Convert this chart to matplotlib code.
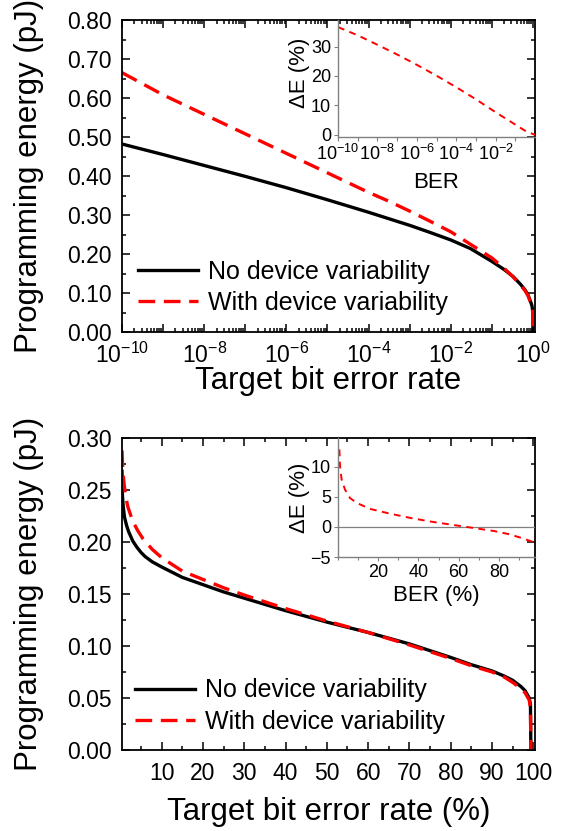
import numpy as np
import matplotlib
matplotlib.use('Agg')
import matplotlib.pyplot as plt
from matplotlib.ticker import MultipleLocator, FormatStrFormatter, LogLocator, NullLocator

plt.rcParams['font.family'] = ['Liberation Sans', 'DejaVu Sans']
plt.rcParams['mathtext.fontset'] = 'custom'
plt.rcParams['mathtext.rm'] = 'Liberation Sans'
plt.rcParams['mathtext.it'] = 'Liberation Sans:italic'
plt.rcParams['mathtext.bf'] = 'Liberation Sans:bold'

# ---- top panel: log BER ----
ber_top = [1e-10, 1e-9, 1e-8, 1e-7, 1e-6, 1e-5, 1e-4, 3e-4, 1e-3, 3e-3, 1e-2, 3e-2, 0.1,
           0.2, 0.33, 0.5, 0.64, 0.75, 0.845, 0.93, 0.97, 0.99, 0.995]
energy_top_novar = [0.482, 0.455, 0.427, 0.399, 0.370, 0.339, 0.307, 0.291, 0.2735, 0.256,
                    0.236, 0.214, 0.181, 0.160, 0.142, 0.122, 0.108, 0.096, 0.082, 0.070,
                    0.060, 0.050, 0.0]
energy_top_var = [0.665, 0.608, 0.558, 0.508, 0.458, 0.408, 0.358, 0.336, 0.310, 0.285,
                  0.257, 0.225, 0.190, 0.163, 0.141, 0.120, 0.106, 0.094, 0.080, 0.067,
                  0.057, 0.047, 0.0]

ber_inset_top = [1e-10, 1e-9, 1e-8, 1e-7, 1e-6, 1e-5, 1e-4, 1e-3, 1e-2, 1e-1, 0.3, 1.0]
delta_e_top = [36.6, 33.8, 30.6, 27.3, 23.8, 20.1, 16.2, 12.1, 7.7, 3.5, 1.5, 0.0]

# ---- bottom panel: linear BER (%) ----
ber_bot_novar = [0.4, 0.5, 0.7, 1.0, 1.5, 2, 3, 4, 5, 6, 7.7, 10, 15, 20, 25, 30, 40, 50,
                 60, 70, 80, 85, 90, 93, 95, 97, 98, 99, 99.3, 99.4]
energy_bot_novar = [0.268, 0.245, 0.234, 0.224, 0.216, 0.210, 0.201, 0.195, 0.190, 0.186,
                    0.181, 0.176, 0.166, 0.159, 0.152, 0.146, 0.134, 0.123, 0.113, 0.102,
                    0.089, 0.082, 0.076, 0.071, 0.067, 0.061, 0.057, 0.050, 0.044, 0.0]
ber_bot_var = [0.4, 0.6, 0.9, 1.3, 1.8, 3, 4.2, 5.5, 7.7, 10, 15, 20, 25, 30, 40, 50, 60,
               70, 80, 85, 90, 93, 95, 97, 98, 99, 99.3, 99.4]
energy_bot_var = [0.288, 0.268, 0.256, 0.244, 0.234, 0.220, 0.211, 0.203, 0.193, 0.185,
                  0.172, 0.164, 0.156, 0.149, 0.136, 0.124, 0.113, 0.101, 0.088, 0.081,
                  0.075, 0.070, 0.065, 0.059, 0.055, 0.048, 0.040, 0.0]

ber_inset_bot = [0.7, 1.0, 1.8, 3.5, 6, 9.3, 16, 26, 36, 46, 56, 64, 72, 78, 85, 91, 98]
delta_e_bot = [12.9, 10.1, 7.9, 6.2, 4.8, 4.0, 3.0, 2.2, 1.5, 0.9, 0.4, 0.0, -0.4, -0.7,
               -1.2, -1.8, -2.6]

W, H = 564, 831
fig = plt.figure(figsize=(W / 100, H / 100), dpi=100)


def px_axes(l, t, r, b):
    return fig.add_axes([l / W, 1 - b / H, (r - l) / W, (b - t) / H])


def style_main(ax):
    ax.tick_params(which='both', direction='in', top=True, right=True, labelsize=16.5,
                   width=1.1)
    ax.tick_params(which='major', length=6, pad=7.5)
    ax.tick_params(which='minor', length=3)
    for s in ax.spines.values():
        s.set_linewidth(1.3)


def style_inset(ax):
    ax.set_facecolor('none')
    ax.spines['top'].set_visible(False)
    ax.spines['right'].set_visible(False)
    for s in ['left', 'bottom']:
        ax.spines[s].set_color('#808080')
        ax.spines[s].set_linewidth(1.0)
    ax.tick_params(which='both', direction='out', top=False, right=False, labelsize=13,
                   color='#808080', width=0.8, pad=2)
    ax.tick_params(which='major', length=3)
    ax.tick_params(which='minor', length=2)


# ===== top panel =====
ax1 = px_axes(122, 20, 535, 332)
ax1.plot(ber_top, energy_top_novar, color='black', lw=2.4, label='No device variability')
ax1.plot(ber_top, energy_top_var, color='red', lw=2.4, dashes=(5, 2.6),
         label='With device variability')
ax1.set_xscale('log')
ax1.set_xlim(1e-10, 1.12)
ax1.set_ylim(0, 0.8)
decades = 10.0 ** np.arange(-10, 1)
ax1.set_xticks(decades)
ax1.set_xticklabels(['$10^{%d}$' % e if e % 2 == 0 else '' for e in range(-10, 1)])
ax1.xaxis.set_minor_locator(LogLocator(base=10, subs=np.arange(2, 10), numticks=30))
ax1.yaxis.set_major_locator(MultipleLocator(0.1))
ax1.yaxis.set_minor_locator(MultipleLocator(0.05))
ax1.yaxis.set_major_formatter(FormatStrFormatter('%.2f'))
style_main(ax1)
ax1.set_xlabel('Target bit error rate', fontsize=22.5)
ax1.set_ylabel('Programming energy (pJ)', fontsize=22.5)
ax1.xaxis.set_label_coords(0.5, -0.11)
ax1.yaxis.set_label_coords(-0.19, 0.5)
ax1.legend(loc='center left', bbox_to_anchor=(0.039, 0.143), frameon=False, fontsize=18,
           handlelength=2.4, handletextpad=0.4, labelspacing=0.3, borderpad=0,
           borderaxespad=0)

ins1 = px_axes(338, 20, 535, 137)
ins1.plot(ber_inset_top, delta_e_top, color='red', lw=1.4, dashes=(3.5, 2.8))
ins1.set_xscale('log')
ins1.set_xlim(1e-10, 1.0)
ins1.set_ylim(-0.7, 39)
ins1.set_xticks(decades[:-1])
ins1.set_xticklabels(['$10^{%d}$' % e if e % 2 == 0 else '' for e in range(-10, 0)])
ins1.xaxis.set_minor_locator(NullLocator())
ins1.set_yticks([0, 10, 20, 30])
style_inset(ins1)
ins1.set_xlabel('BER', fontsize=16)
ins1.set_ylabel('ΔE (%)', fontsize=16)
ins1.xaxis.set_label_coords(0.5, -0.30)
ins1.yaxis.set_label_coords(-0.14, 0.55)

# ===== bottom panel =====
ax2 = px_axes(122, 438, 535, 750)
ax2.plot(ber_bot_novar, energy_bot_novar, color='black', lw=2.4, label='No device variability')
ax2.plot(ber_bot_var, energy_bot_var, color='red', lw=2.4, dashes=(5, 2.6),
         label='With device variability')
ax2.set_xlim(0.4, 100.4)
ax2.set_ylim(0, 0.3)
ax2.set_xticks(np.arange(10, 101, 10))
ax2.xaxis.set_minor_locator(MultipleLocator(5))
ax2.yaxis.set_major_locator(MultipleLocator(0.05))
ax2.yaxis.set_minor_locator(MultipleLocator(0.025))
ax2.yaxis.set_major_formatter(FormatStrFormatter('%.2f'))
style_main(ax2)
ax2.tick_params(axis='x', which='major', pad=9)
ax2.set_xlabel('Target bit error rate (%)', fontsize=22.5)
ax2.set_ylabel('Programming energy (pJ)', fontsize=22.5)
ax2.xaxis.set_label_coords(0.5, -0.15)
ax2.yaxis.set_label_coords(-0.19, 0.5)
ax2.legend(loc='center left', bbox_to_anchor=(0.031, 0.141), frameon=False, fontsize=18,
           handlelength=2.4, handletextpad=0.4, labelspacing=0.3, borderpad=0,
           borderaxespad=0)

ins2 = px_axes(338, 438, 535, 557)
ins2.axhline(0, color='#808080', lw=0.9)
ins2.plot(ber_inset_bot, delta_e_bot, color='red', lw=1.4, dashes=(3.5, 2.8))
ins2.set_xlim(0, 98)
ins2.set_ylim(-5, 14.8)
ins2.set_xticks([20, 40, 60, 80])
ins2.xaxis.set_minor_locator(MultipleLocator(10))
ins2.set_yticks([-5, 0, 5, 10])
style_inset(ins2)
ins2.set_xlabel('BER (%)', fontsize=16)
ins2.set_ylabel('ΔE (%)', fontsize=16)
ins2.xaxis.set_label_coords(0.5, -0.235)
ins2.yaxis.set_label_coords(-0.14, 0.5)

fig.savefig('out.png', dpi=100)
